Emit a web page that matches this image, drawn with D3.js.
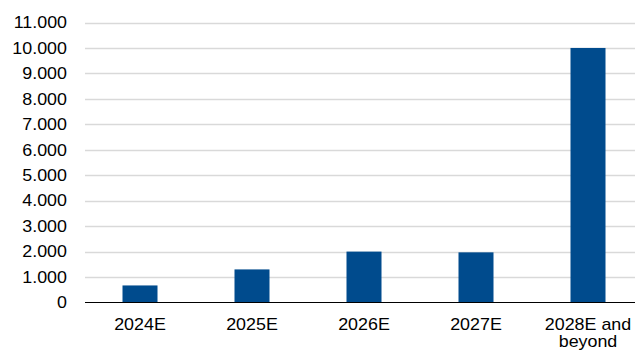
<!DOCTYPE html>
<html><head><meta charset="utf-8">
<script src="https://cdn.jsdelivr.net/npm/d3@7"></script>
<style>html,body{margin:0;padding:0;background:#fff}svg{display:block}</style>
</head><body>
<svg id="c" width="635" height="352"></svg>
<script>
const categories = ["2024E", "2025E", "2026E", "2027E", "2028E and|beyond"];
const values = [670, 1300, 2000, 1970, 10000];
const yTicks = [0,1000,2000,3000,4000,5000,6000,7000,8000,9000,10000,11000];

const svg = d3.select("#c");
const font = "'Liberation Sans', Arial, sans-serif";
const fs = 16.4, sx = 1.09;
const y = d3.scaleLinear().domain([0, 11000]).range([302.5, 22.5]);
const x = d3.scaleBand().domain(categories).range([84, 644]).paddingInner(0.6875).paddingOuter(0.34375);

const fmt = v => d3.format(",")(v).replace(/,/g, ".");

svg.append("g").selectAll("line").data(yTicks.filter(d=>d>0)).join("line")
  .attr("x1", 85).attr("x2", 635)
  .attr("y1", d=>Math.round(y(d))+0.5).attr("y2", d=>Math.round(y(d))+0.5)
  .attr("stroke", "#d9d9d9").attr("stroke-width", 1.5);

svg.append("g").selectAll("text").data(yTicks).join("text")
  .attr("transform", d=>`translate(67,${y(d)}) scale(${sx},1)`)
  .attr("dy", "0.35em")
  .attr("text-anchor", "end").attr("font-family", font).attr("font-size", fs)
  .attr("fill", "#000").text(fmt);

svg.append("g").selectAll("rect").data(values).join("rect")
  .attr("x", (d,i)=>x(categories[i])).attr("width", x.bandwidth())
  .attr("y", d=>y(d)).attr("height", d=>y(0)-y(d))
  .attr("fill", "#004b8d");

svg.append("line").attr("x1", 85).attr("x2", 635)
  .attr("y1", y(0)).attr("y2", y(0)).attr("stroke", "#000").attr("stroke-width", 1.2);

const xl = svg.append("g").selectAll("text").data(categories).join("text")
  .attr("transform", d=>`translate(${x(d) + x.bandwidth()/2},329.5) scale(${sx},1)`)
  .attr("text-anchor", "middle").attr("font-family", font).attr("font-size", fs).attr("fill", "#000");
xl.each(function(d){
  d3.select(this).selectAll("tspan").data(d.split("|")).join("tspan")
    .attr("x", 0).attr("y", (p,j)=>j*18).text(p=>p);
});
</script>
</body></html>
